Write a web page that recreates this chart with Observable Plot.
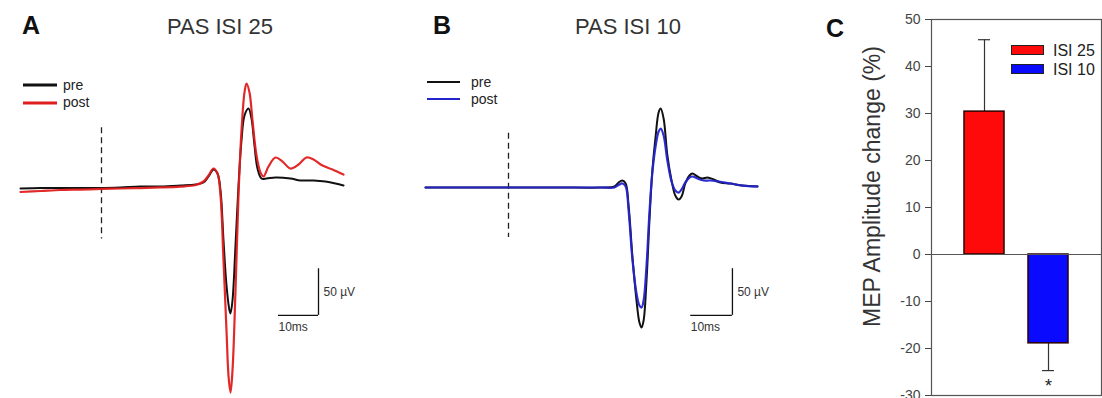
<!DOCTYPE html>
<html>
<head>
<meta charset="utf-8">
<script src="https://cdn.jsdelivr.net/npm/d3@7"></script>
<script src="https://cdn.jsdelivr.net/npm/@observablehq/plot@0.6"></script>
<style>
  html, body { margin: 0; padding: 0; background: #fff; }
  #wrap { position: relative; width: 1102px; height: 398px; overflow: hidden; font-family: "Liberation Sans", Arial, sans-serif; }
  .panel { position: absolute; top: 0; }
  .lbl { position: absolute; white-space: nowrap; line-height: 1; transform: translateY(-50%); }
  .letter { font-weight: bold; font-size: 25px; color: #111; }
  .title { font-size: 22px; color: #333; transform: translate(-50%, -50%); }
  .legline { position: absolute; height: 3px; transform: translateY(-50%); }
  .legtxt { font-size: 14px; color: #222; }
  .swatch { position: absolute; width: 31px; height: 8px; border: 1.5px solid #222; }
  .swtxt { font-size: 16px; color: #222; }
</style>
</head>
<body>
<div id="wrap">
  <div class="panel" id="pa" style="left:0px"></div>
  <div class="panel" id="pb" style="left:0px"></div>
  <div class="panel" id="pc" style="left:820px"></div>
</div>
<script>
// ---------- DATA ----------
// Panel A (PAS ISI 25): time (ms, stimulus at 0) and amplitude (µV)
const aPreT  = [-20.25,-15.25,-10.25,-5.25,0,4.75,9.75,14.75,19.75,23.5,25.5,26.75,28,29,29.75,30.5,31.25,32,32.25,32.75,33.5,34.25,35,35.75,36.75,37.5,38.25,39,40,41.25,43.5,47.25,49.75,53,56,58.5,60.5];
const aPreV  = [0,0.5,0.5,0.5,0.5,1.1,2.1,2.1,3.2,4.3,6.4,12.9,20.4,16.1,-2.1,-55.7,-103.9,-130.7,-133.9,-120,-61.1,3.2,51.4,78.2,85.7,75,46.1,21.4,10.7,10.7,11.8,10.7,8.6,8.6,7.5,5.4,3.2];
const aPostT = [-20.25,-15.25,-10.25,-5.25,0,4.75,9.75,14.75,19.75,23.5,25.5,26.75,28,29,29.75,30.5,31.25,31.75,32.25,32.75,33.5,34.25,35,35.75,36.25,37,37.75,38.75,39.75,40.5,41.75,43.5,45.25,47.25,49.25,51.25,53,55.25,57.75,60.5];
const aPostV = [-3.75,-2.7,-1.6,-1.1,-0.5,0,0.5,1.1,2.1,3.75,7.5,13.9,21.4,16.1,-7.5,-77.1,-152.1,-200.4,-218.6,-195,-109.3,-7.5,62.1,102.9,112.5,102.9,72.9,35.4,17.1,12.9,23.6,33.2,28.9,21.4,25.7,33.2,31.1,24.6,20.4,15];

// Panel B (PAS ISI 10)
const bPreT  = [-19.9,-9.1,0,12.5,22.1,25.4,26.4,27.3,28.1,28.8,29.7,30.7,31.4,31.9,32.4,33.1,33.8,34.5,35.3,36,36.5,37.2,38.1,39.1,40,40.8,41.5,42.4,43.4,44.1,45.3,46.5,47.7,49.2,50.8,53.2,56.1,59.7];
const bPreV  = [0,0,0,0,0,1.1,5.4,7.5,4.3,-19.3,-72.9,-121.1,-144.6,-150,-142.5,-99.6,-35.4,18.2,55.7,80.4,84.6,73.9,34.3,7.5,-8.6,-12.9,-9.6,4.3,12.9,15,11.8,9.6,10.7,8.6,5.4,4.3,2.1,1.1];
const bPostT = [-19.9,-9.1,0,12.5,22.1,25.4,26.4,27.3,28.1,28.8,29.7,30.7,31.4,31.9,32.4,33.1,33.8,34.5,35.3,36,36.5,37.2,38.1,39.1,40,40.8,41.5,42.4,43.4,44.1,45.3,46.8,48.4,50.4,53.2,56.1,59.7];
const bPostV = [0,0,0,0,0,0,2.7,4.3,1.1,-24.6,-76.1,-113.6,-126.4,-128.6,-121.1,-83.6,-26.8,16.1,45,60,63.2,55.7,28.9,6.4,-3.2,-5.4,-2.1,5.4,10.7,11.8,9.6,7.5,7.5,6.4,4.3,2.1,1.1];

// Scale bars
const barMs = 10, barUv = 50;
const barLabelTime = "10ms", barLabelAmp = "50 µV";

// Panel C (bar chart)
const cCategories = ["ISI 25", "ISI 10"];
const cMeans  = [30.4, -18.9];
const cErrors = [15.3, 5.8];
const cColors = ["#ff0a0a", "#0a0aff"];
const cSignif = ["", "*"];
const cTicks  = [-30, -20, -10, 0, 10, 20, 30, 40, 50];
const cYLabel = "MEP Amplitude change (%)";

const titles = ["PAS ISI 25", "PAS ISI 10"];
const letters = ["A", "B", "C"];
const traceLegend = ["pre", "post"];

// ---------- HELPERS ----------
const FONT = "'Liberation Sans', Arial, sans-serif";
const zip = (T, V) => T.map((t, i) => ({t, v: V[i]}));

function tracePanel({preT, preV, postT, postV, postColor, xr, yr, dash, bar}) {
  return Plot.plot({
    width: 800, height: 398, margin: 0,
    style: {fontFamily: FONT, background: "transparent"},
    x: {domain: [0, 10], range: xr, axis: null},
    y: {domain: [0, 50], range: yr, axis: null},
    marks: [
      Plot.ruleX([0], {y1: dash[0], y2: dash[1], stroke: "#222", strokeWidth: 1.3, strokeDasharray: "6,4"}),
      Plot.line(zip(preT, preV), {x: "t", y: "v", stroke: "#111", strokeWidth: 2, curve: "catmull-rom"}),
      Plot.line(zip(postT, postV), {x: "t", y: "v", stroke: postColor, strokeWidth: 2.2, curve: "catmull-rom", strokeOpacity: 0.95}),
      Plot.ruleX([bar.t], {y1: bar.v, y2: bar.v + barUv, stroke: "#111", strokeWidth: 1.3}),
      Plot.ruleY([bar.v], {x1: bar.t - barMs, x2: bar.t, stroke: "#111", strokeWidth: 1.3}),
      Plot.text([barLabelAmp], {x: bar.t, y: bar.v + barUv / 2, dx: 5, textAnchor: "start", fontSize: 12, fill: "#333"}),
      Plot.text([barLabelTime], {x: bar.t - barMs, y: bar.v, dy: 12, textAnchor: "start", fontSize: 12, fill: "#333"})
    ]
  });
}

document.getElementById("pa").append(tracePanel({
  preT: aPreT, preV: aPreV, postT: aPostT, postV: aPostV, postColor: "#e01e1e",
  xr: [101, 141], yr: [188, 141.33], dash: [65, -54], bar: {t: 54.25, v: -136}
}));
document.getElementById("pb").append(tracePanel({
  preT: bPreT, preV: bPreV, postT: bPostT, postV: bPostV, postColor: "#2424cc",
  xr: [508, 549.7], yr: [187, 140.33], dash: [58, -53.6], bar: {t: 53.7, v: -137}
}));

// Panel C
const cData = cCategories.map((c, i) => ({
  cat: c, mean: cMeans[i], err: cErrors[i], tip: cMeans[i] + Math.sign(cMeans[i]) * cErrors[i], sig: cSignif[i]
}));
document.getElementById("pc").append(Plot.plot({
  width: 282, height: 398,
  marginLeft: 111, marginRight: 1, marginTop: 19, marginBottom: 3,
  style: {fontFamily: FONT, background: "transparent", overflow: "visible"},
  x: {type: "band", domain: cCategories, range: [131.75, 260.75], paddingInner: 0.38, paddingOuter: 0.19, axis: null},
  y: {domain: [-30, 50], axis: null},
  color: {domain: cCategories, range: cColors},
  marks: [
    Plot.frame({stroke: "#555", strokeWidth: 1.2}),
    Plot.axisY({ticks: cTicks, tickSize: 6, tickPadding: 5, fontSize: 14, tickFormat: d => String(d), label: null, color: "#444"}),
    Plot.ruleX(cData, {x: "cat", y1: "mean", y2: "tip", stroke: "#333", strokeWidth: 1.2}),
    Plot.tickY(cData, {x: "cat", y: "tip", stroke: "#333", strokeWidth: 1.2, insetLeft: 14, insetRight: 14}),
    Plot.barY(cData, {x: "cat", y: "mean", fill: "cat", stroke: "#2a0000", strokeWidth: 1.5}),
    Plot.ruleY([0], {stroke: "#555", strokeWidth: 1.2}),
    Plot.text(cData.filter(d => d.sig), {x: "cat", y: "tip", text: "sig", dy: 16, fontSize: 18, fill: "#222"}),
    Plot.text([cYLabel], {frameAnchor: "left", textAnchor: "middle", lineAnchor: "middle", rotate: -90, dx: -59, dy: -21, fontSize: 23, fill: "#333"})
  ]
}));

// ---------- HTML text overlays (letters, titles, legends) ----------
const wrap = document.getElementById("wrap");
function add(html) { wrap.insertAdjacentHTML("beforeend", html); }
add(`<div class="lbl letter" style="left:22px;top:25px">${letters[0]}</div>`);
add(`<div class="lbl letter" style="left:433px;top:25px">${letters[1]}</div>`);
add(`<div class="lbl letter" style="left:826px;top:28px">${letters[2]}</div>`);
add(`<div class="lbl title" style="left:220px;top:27px">${titles[0]}</div>`);
add(`<div class="lbl title" style="left:628px;top:27px">${titles[1]}</div>`);

// trace legends
add(`<div class="legline" style="left:23px;top:85px;width:34px;background:#111"></div>`);
add(`<div class="legline" style="left:23px;top:103px;width:34px;background:#e01e1e"></div>`);
add(`<div class="lbl legtxt" style="left:63px;top:85px">${traceLegend[0]}</div>`);
add(`<div class="lbl legtxt" style="left:63px;top:102px">${traceLegend[1]}</div>`);
add(`<div class="legline" style="left:427px;top:82px;width:33px;height:2px;background:#111"></div>`);
add(`<div class="legline" style="left:427px;top:99px;width:33px;height:2px;background:#2424cc"></div>`);
add(`<div class="lbl legtxt" style="left:471px;top:82px">${traceLegend[0]}</div>`);
add(`<div class="lbl legtxt" style="left:471px;top:99px">${traceLegend[1]}</div>`);

// bar legend
add(`<div class="swatch" style="left:1011px;top:45px;background:${cColors[0]}"></div>`);
add(`<div class="swatch" style="left:1011px;top:64px;background:${cColors[1]}"></div>`);
add(`<div class="lbl swtxt" style="left:1053px;top:51px">${cCategories[0]}</div>`);
add(`<div class="lbl swtxt" style="left:1053px;top:70px">${cCategories[1]}</div>`);
</script>
</body>
</html>
